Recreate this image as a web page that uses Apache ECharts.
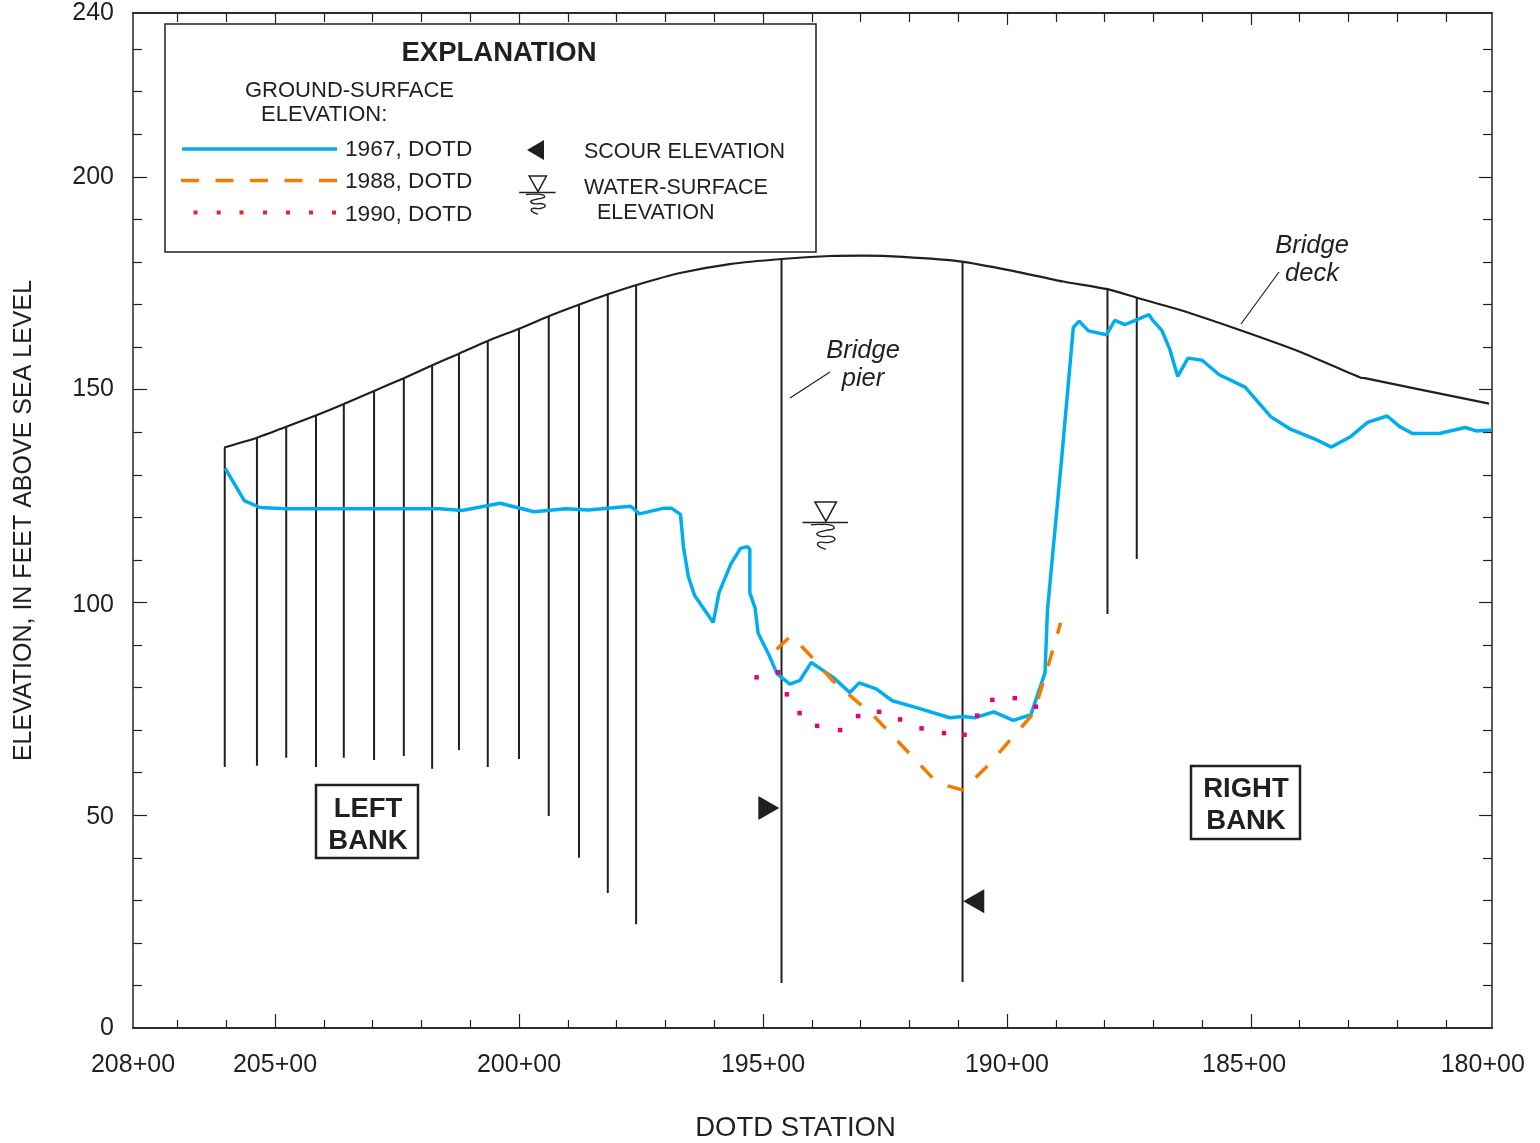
<!DOCTYPE html>
<html>
<head>
<meta charset="utf-8">
<style>html,body{margin:0;padding:0;background:#fff}#c{width:1540px;height:1143px}</style>
<script src="https://cdn.jsdelivr.net/npm/echarts@6/dist/echarts.min.js"></script>
</head>
<body>
<div id="c"></div>
<script>
// Stations are in hundreds of feet (200 = 200+00); elevations in feet above sea level.
const ground1967 = [[206.02,131.5],[205.63,123.9],[205.31,122.3],[204.76,122.0],[201.62,122.0],[201.17,121.6],[200.39,123.3],[199.69,121.3],[199.04,122.0],[198.58,121.7],[197.71,122.6],[197.53,120.8],[197.05,122.1],[196.87,122.1],[196.69,120.7],[196.63,113.1],[196.53,106.1],[196.40,101.6],[196.02,95.3],[195.90,102.3],[195.66,109.0],[195.46,112.7],[195.32,113.1],[195.27,112.5],[195.27,102.3],[195.16,98.6],[195.10,92.8],[194.88,87.7],[194.71,83.2],[194.45,80.8],[194.24,81.7],[194.01,85.9],[193.56,82.4],[193.22,78.8],[193.03,81.1],[192.68,79.7],[192.35,76.9],[191.89,75.4],[191.17,72.9],[190.90,73.2],[190.66,72.9],[190.27,74.3],[189.87,72.3],[189.51,73.6],[189.22,83.5],[189.17,98.2],[188.88,133.7],[188.64,164.6],[188.52,166.1],[188.33,163.8],[187.96,162.9],[187.79,166.3],[187.58,165.3],[187.09,167.6],[187.02,166.4],[186.83,164.0],[186.67,159.7],[186.50,153.1],[186.29,157.4],[186.00,156.9],[185.65,153.5],[185.12,150.6],[184.59,143.6],[184.19,140.7],[183.69,138.4],[183.35,136.5],[182.95,139.0],[182.61,142.3],[182.21,143.8],[181.95,141.3],[181.69,139.7],[181.14,139.7],[180.61,141.1],[180.38,140.3],[180.07,140.5]];
const ground1988 = [[194.72,89.0],[194.47,91.7],[194.41,92.1],[194.02,87.4],[193.57,81.6],[193.01,76.1],[192.75,73.6],[191.52,58.7],[191.21,56.9],[190.90,55.9],[190.38,61.8],[189.45,74.0],[189.14,85.7],[188.90,95.2]];
const ground1990 = [[195.13,82.4],[194.69,83.6],[194.51,78.4],[194.25,74.0],[193.89,71.0],[193.42,70.0],[193.05,73.3],[192.62,74.3],[192.19,72.5],[191.75,70.4],[191.29,69.3],[190.87,68.9],[190.61,73.4],[190.30,77.1],[189.84,77.5],[189.41,75.5]];
const bridgeDeck = [[206.04,136.4],[205.37,138.7],[204.77,141.3],[204.15,144.0],[203.59,146.6],[202.97,149.7],[202.36,152.7],[201.80,155.6],[201.24,158.4],[200.63,161.5],[200,164.3],[199.38,167.3],[198.76,170.0],[198.18,172.4],[197.59,174.6],[196.70,177.4],[195.68,179.5],[194.62,180.7],[193.63,181.4],[192.95,181.5],[192.13,181.2],[190.92,180.1],[189.88,177.9],[188.85,175.4],[187.94,173.6],[187.34,171.6],[186.45,168.7],[185.23,164.0],[184.0,158.9],[182.75,152.8],[182.67,152.7],[180.12,146.7]];
const pierStations = [206.03,205.37,204.77,204.16,203.59,202.97,202.36,201.78,201.23,200.64,200,199.39,198.77,198.18,197.60,194.62,190.91,187.94,187.34];
const pierBottoms = [61.3,61.6,63.5,61.3,63.5,63.0,63.9,60.9,65.3,61.3,63.2,49.8,40.0,31.7,24.4,10.6,10.8,97.3,110.2];
const pierTops = [136.4,138.7,141.3,144.0,146.6,149.7,152.7,155.6,158.4,161.5,164.3,167.3,170.0,172.4,174.6,180.7,180.1,173.6,171.6];
const scourPoints = [[194.88,51.7,-90],[190.68,29.8,90]];
const waterSurface = [[193.71,118.8]];
const stationMajorTicks = [205,200,195,190,185];
const stationMinorTicks = [207,206,204,203,202,201,199,198,197,196,194,193,192,191,189,188,187,186,184,183,182,181];
const stationLabelAt = [207.91,205,200,195,190,185.14,180.25];
const stationLabels = ['208+00','205+00','200+00','195+00','190+00','185+00','180+00'];
const elevMajorTicks = [50,100,150,200];
const elevMinorTicks = [10,20,30,40,60,70,80,90,110,120,130,140,160,170,180,190,210,220,230];
const elevLabelAt = [0,49.5,99.4,150.2,200,238.5];
const elevLabels = ['0','50','100','150','200','240'];

const INK = '#231F20', BLUE = '#00AEEF', ORANGE = '#F57A00', PINK = '#E6007E', RED = '#ED2024';
const FONT = '"Liberation Sans", Arial, sans-serif';
const xMin = 180.06, xMax = 207.91, yMin = 0, yMax = 238.5;

function xAxisDef(pos, ticks, len, extra) {
  return Object.assign({
    type: 'value', inverse: true, min: xMin, max: xMax, position: pos, splitLine: {show: false},
    axisLine: {show: true, onZero: false, lineStyle: {color: INK, width: 1.5}},
    axisTick: {show: true, inside: true, length: len, customValues: ticks, lineStyle: {color: INK, width: 1.2}},
    axisLabel: {show: false}
  }, extra || {});
}
function yAxisDef(pos, ticks, len, extra) {
  return Object.assign({
    type: 'value', min: yMin, max: yMax, position: pos, splitLine: {show: false},
    axisLine: {show: true, onZero: false, lineStyle: {color: '#55504f', width: 1.5}},
    axisTick: {show: true, inside: true, length: len, customValues: ticks, lineStyle: {color: INK, width: 1.2}},
    axisLabel: {show: false}
  }, extra || {});
}

const squiggle = [[-15,2.5],[-6,2],[6,3],[8,6],[0,8],[-9,11],[-5,14],[5,14],[9,17],[3,20],[-7,20],[-8,23],[0,27]];
function waterChildren(k) {
  const p = a => a.map(q => [q[0]*k, q[1]*k]);
  return [
    {type:'polygon', shape:{points:p([[-11,-20.5],[10.5,-20.5],[0,-1]])}, style:{fill:'#fff', stroke:INK, lineWidth:1.5}},
    {type:'line', shape:{x1:-23.5*k,y1:0,x2:22*k,y2:0}, style:{stroke:INK, lineWidth:1.5}},
    {type:'polyline', shape:{points:p(squiggle), smooth:0.5}, style:{fill:'none', stroke:INK, lineWidth:1.4}}
  ];
}
function txt(x, y, t, size, opt) {
  return {type:'text', x:x, y:y, z:20, style:Object.assign({text:t, font:size+'px '+FONT, fill:INK, textAlign:'left', textVerticalAlign:'middle'}, opt||{})};
}
const legendDots = [195.5,218.7,241.5,265,288,311,334].map(x => ({type:'rect', z:20, shape:{x:x-2,y:210.5,width:4,height:4}, style:{fill:RED}}));

const chart = echarts.init(document.getElementById('c'), null, {renderer:'canvas'});
chart.setOption({
  animation: false,
  backgroundColor: '#fff',
  textStyle: {fontFamily: FONT},
  grid: {left: 133, top: 13, width: 1359, height: 1015, containLabel: false, outerBoundsMode: 'none'},
  xAxis: [
    xAxisDef('bottom', stationMinorTicks, 8, {
      name: 'DOTD STATION', nameLocation: 'middle', nameGap: 86,
      nameTextStyle: {fontSize: 27.5, color: INK, fontFamily: FONT, padding: [0,34,0,0]},
      axisLabel: {show: true, customValues: stationLabelAt, inside: false, margin: 25, fontSize: 25, color: INK, fontFamily: FONT,
        hideOverlap: false, formatter: v => stationLabels[stationLabelAt.indexOf(v)]}
    }),
    xAxisDef('bottom', stationMajorTicks, 14),
    xAxisDef('top', stationMinorTicks, 9),
    xAxisDef('top', stationMajorTicks, 12)
  ],
  yAxis: [
    yAxisDef('left', elevMinorTicks, 9, {
      name: 'ELEVATION, IN FEET ABOVE SEA LEVEL', nameLocation: 'middle', nameGap: 96, nameRotate: 90,
      nameTextStyle: {fontSize: 25, color: INK, fontFamily: FONT},
      axisLabel: {show: true, customValues: elevLabelAt, margin: 19, fontSize: 25, color: INK, fontFamily: FONT,
        hideOverlap: false, formatter: v => elevLabels[elevLabelAt.indexOf(v)]}
    }),
    yAxisDef('left', elevMajorTicks, 14),
    yAxisDef('right', elevMinorTicks, 9),
    yAxisDef('right', elevMajorTicks, 13)
  ],
  series: [
    {type:'custom', name:'Bridge pier', z:2, clip:false,
      data: pierStations.map((s,i)=>[s,pierBottoms[i],pierTops[i]]),
      encode:{x:0,y:[1,2]},
      renderItem:(params,api)=>{
        const a = api.coord([api.value(0),api.value(1)]), b = api.coord([api.value(0),api.value(2)]);
        return {type:'line', shape:{x1:a[0],y1:a[1],x2:b[0],y2:b[1]}, style:{stroke:INK, lineWidth:2}};
      }},
    {type:'line', name:'Bridge deck', z:3, data:bridgeDeck, symbol:'none', smooth:0.2, lineStyle:{color:INK,width:2.2}},
    {type:'line', name:'1967, DOTD', z:5, data:ground1967, symbol:'none', lineStyle:{color:BLUE,width:3.5}},
    {type:'line', name:'1988, DOTD', z:6, data:ground1988, symbol:'none', lineStyle:{color:ORANGE,width:3.5,type:[16.5,17.4]}},
    {type:'scatter', name:'1990, DOTD', z:7, data:ground1990, symbol:'rect', symbolSize:4.5, itemStyle:{color:PINK, opacity:1}},
    {type:'scatter', name:'Scour elevation', z:8, data:scourPoints, symbol:'triangle', symbolSize:[24,21],
      symbolRotate:(v)=>v[2], itemStyle:{color:INK, opacity:1}},
    {type:'custom', name:'Water-surface elevation', z:8, data:waterSurface, encode:{x:0,y:1},
      renderItem:(params,api)=>{
        const c = api.coord([api.value(0),api.value(1)]);
        return {type:'group', x:c[0], y:c[1], children:waterChildren(1)};
      }}
  ],
  graphic: [
    {type:'rect', z:19, shape:{x:165,y:24,width:651,height:228}, style:{fill:'#fff', stroke:INK, lineWidth:1.5}},
    txt(499,53,'EXPLANATION',27.5,{font:'bold 27.5px '+FONT, textAlign:'center'}),
    txt(245,91,'GROUND-SURFACE',22),
    txt(261,115,'ELEVATION:',22),
    {type:'line', z:20, shape:{x1:182,y1:149,x2:337,y2:149}, style:{stroke:BLUE, lineWidth:3.5}},
    {type:'line', z:20, shape:{x1:181,y1:180.5,x2:337,y2:180.5}, style:{stroke:ORANGE, lineWidth:3.5, lineDash:[18,16.5]}},
    ...legendDots,
    txt(345,150,'1967, DOTD',22.7),
    txt(345,182,'1988, DOTD',22.7),
    txt(345,215,'1990, DOTD',22.7),
    {type:'polygon', z:20, shape:{points:[[527,150],[544,140],[544,160]]}, style:{fill:INK}},
    {type:'group', z:20, x:538, y:192.5, children:waterChildren(0.8).map(c=>Object.assign(c,{z:20}))},
    txt(584,152,'SCOUR ELEVATION',21.5),
    txt(584,188,'WATER-SURFACE',21.5),
    txt(597,213,'ELEVATION',21.5),
    txt(1312,246,'Bridge',25.5,{font:'italic 25.5px '+FONT, textAlign:'center'}),
    txt(1312,274,'deck',25.5,{font:'italic 25.5px '+FONT, textAlign:'center'}),
    {type:'line', z:20, shape:{x1:1279,y1:272,x2:1241,y2:324}, style:{stroke:INK, lineWidth:1.2}},
    txt(863,351,'Bridge',25.5,{font:'italic 25.5px '+FONT, textAlign:'center'}),
    txt(863,379,'pier',25.5,{font:'italic 25.5px '+FONT, textAlign:'center'}),
    {type:'line', z:20, shape:{x1:830,y1:372,x2:790,y2:398}, style:{stroke:INK, lineWidth:1.2}},
    {type:'rect', z:19, shape:{x:316,y:785,width:102,height:73}, style:{fill:'#fff', stroke:INK, lineWidth:2.5}},
    txt(368,809,'LEFT',27.5,{font:'bold 27.5px '+FONT, textAlign:'center'}),
    txt(368,841,'BANK',27.5,{font:'bold 27.5px '+FONT, textAlign:'center'}),
    {type:'rect', z:19, shape:{x:1191,y:766,width:109,height:73}, style:{fill:'#fff', stroke:INK, lineWidth:2.5}},
    txt(1246,789,'RIGHT',27.5,{font:'bold 27.5px '+FONT, textAlign:'center'}),
    txt(1246,821,'BANK',27.5,{font:'bold 27.5px '+FONT, textAlign:'center'})
  ]
});
</script>
</body>
</html>
